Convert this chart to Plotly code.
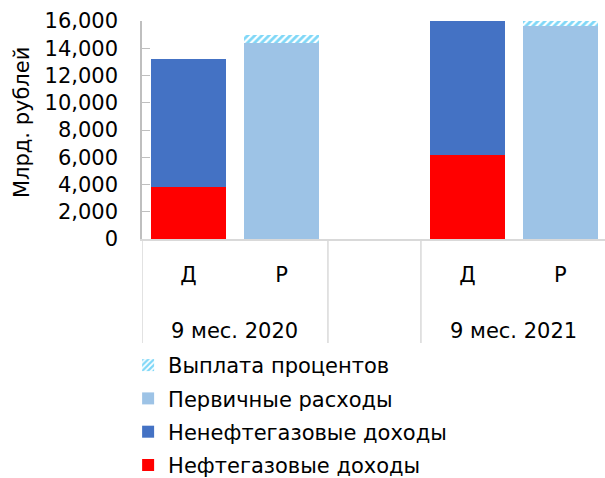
import plotly.graph_objects as go

groups = ["9 мес. 2020", "9 мес. 2021"]
subcats = ["Д", "Р", "", "Д", "Р"]
slots = [0, 1, 2, 3, 4]
group_centers = [0.5, 3.5]
divider_positions = [-0.5, 1.5, 2.5, 4.5]

oil_gas = [3800, None, None, 6140, None]
non_oil_gas = [9400, None, None, 12200, None]
primary_exp = [None, 14420, None, None, 15650]
interest = [None, 560, None, None, 800]

y_ticks = [0, 2000, 4000, 6000, 8000, 10000, 12000, 14000, 16000]
y_title = "Млрд. рублей"

FONT = "DejaVu Sans"
fig = go.Figure()
fig.add_trace(go.Bar(x=slots, y=oil_gas, name="Нефтегазовые доходы", legendgroup="a", legendrank=4,
                     marker=dict(color="#FF0000", line=dict(width=0))))
fig.add_trace(go.Bar(x=slots, y=non_oil_gas, name="Ненефтегазовые доходы", legendgroup="b", legendrank=3,
                     marker=dict(color="#4472C4", line=dict(width=0))))
fig.add_trace(go.Bar(x=slots, y=primary_exp, name="Первичные расходы", legendgroup="c", legendrank=2,
                     marker=dict(color="#9DC3E6", line=dict(width=0))))
fig.add_trace(go.Bar(x=slots, y=interest, name="Выплата процентов", legendgroup="d", legendrank=1,
                     marker=dict(color="white", line=dict(width=0),
                                 pattern=dict(shape="/", fgcolor="#00B0F0",
                                              bgcolor="white", size=5, solidity=0.55))))

# group labels under the category axis
for g, cx in zip(groups, group_centers):
    fig.add_annotation(x=cx, xref="x", y=-0.42, yref="paper", text=g,
                       showarrow=False, yanchor="middle",
                       font=dict(family=FONT, size=21, color="#000000"))
# dividers of the category axis
for dx in divider_positions:
    fig.add_shape(type="line", xref="x", yref="paper", x0=dx, x1=dx, y0=0, y1=-0.477,
                  line=dict(color="#D9D9D9", width=1.5))
# y axis title
fig.add_annotation(x=-0.259, xref="paper", y=0.532, yref="paper", text=y_title,
                   textangle=-90, showarrow=False, xanchor="center", yanchor="middle",
                   font=dict(family=FONT, size=21, color="#000000"))

fig.update_layout(
    barmode="stack",
    bargap=0.2,
    width=605, height=478,
    margin=dict(l=142, r=0, t=21, b=239, autoexpand=False),
    paper_bgcolor="white", plot_bgcolor="white",
    font=dict(family=FONT, size=21, color="#000000"),
    showlegend=True,
    legend=dict(x=-0.03, xanchor="left", y=-0.486, yanchor="top",
                font=dict(size=21),
                itemwidth=30, tracegroupgap=3, bgcolor="rgba(0,0,0,0)"),
)
fig.update_yaxes(range=[0, 16000], tickvals=y_ticks, automargin=False,
                 tickformat=",d", showgrid=False, zeroline=False,
                 showline=True, linecolor="#BFBFBF", linewidth=1.5,
                 ticks="inside", ticklen=8, tickcolor="#BFBFBF", ticklabelstandoff=18)
fig.update_xaxes(range=[-0.5, 4.48], automargin=False,
                 tickvals=slots, ticktext=subcats, ticklabelstandoff=16,
                 showline=True, linecolor="#D9D9D9", linewidth=1.5,
                 ticks="", showgrid=False, zeroline=False, tickfont=dict(size=21))

fig.write_html("out.html", config={"displayModeBar": False},
               post_script="document.body.style.margin='0px';")
